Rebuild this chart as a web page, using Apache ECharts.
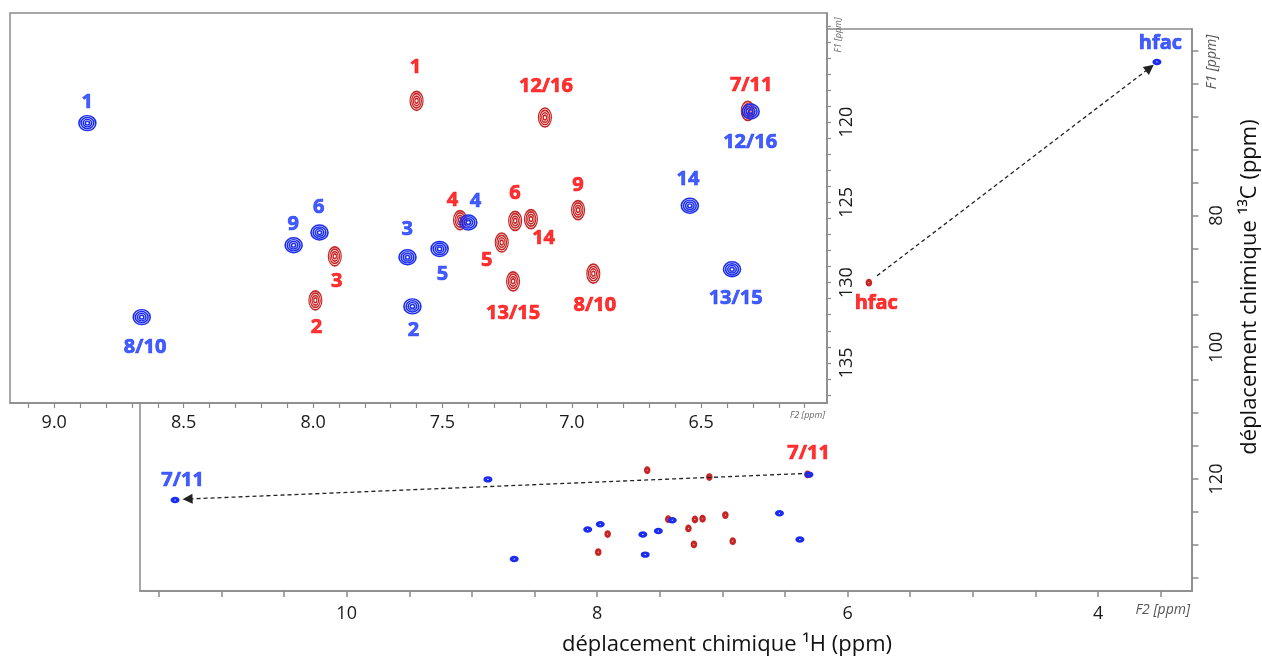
<!DOCTYPE html>
<html>
<head>
<meta charset="utf-8">
<script src="https://cdn.jsdelivr.net/npm/echarts@6/dist/echarts.min.js"></script>
<style>
html,body{margin:0;padding:0;background:#fff;}
#chart{width:1262px;height:661px;}
</style>
</head>
<body>
<div id="chart"></div>
<script>
// ---------- DATA (ppm) ----------
// complex (blue) peaks: 1H shift, 13C shift
const bluePeakNames = ['1','2','3','4','5','6','7/11','8/10','9','12/16','13/15','14','hfac'];
const blueH = [8.872, 7.616, 7.635, 7.400, 7.511, 7.975, 11.37, 8.662, 8.075, 6.309, 6.381, 6.544, 3.53];
const blueC = [120.06, 131.48, 128.42, 126.25, 127.90, 126.88, 123.2, 132.15, 127.67, 119.34, 129.17, 125.21, 56.7];
// free ligand (red) peaks
const redPeakNames = ['1','2','3','4','5','6','7/11','8/10','9','12/16','13/15','14','hfac'];
const redH = [7.600, 7.991, 7.916, 7.432, 7.271, 7.219, 6.320, 6.917, 6.976, 7.104, 7.227, 7.158, 5.83];
const redC = [118.67, 131.10, 128.36, 126.10, 127.50, 126.15, 119.30, 129.44, 125.48, 119.71, 129.92, 126.04, 90.2];

// annotation anchors (ppm) – zoomed panel
const blueTagText = ['1','2','3','4','5','6','8/10','9','12/16','13/15','14'];
const blueTagH = [8.873, 7.612, 7.636, 7.372, 7.500, 7.978, 8.649, 8.077, 6.311, 6.367, 6.551];
const blueTagC = [118.79, 132.98, 126.69, 124.96, 129.48, 125.31, 134.03, 126.36, 121.23, 131.00, 123.54];
const redTagText = ['1','2','3','4','5','6','7/11','8/10','9','12/16','13/15','14'];
const redTagH = [7.604, 7.987, 7.909, 7.461, 7.329, 7.220, 6.307, 6.911, 6.976, 7.100, 7.227, 7.109];
const redTagC = [116.60, 132.78, 129.92, 124.86, 128.61, 124.42, 117.73, 131.42, 123.92, 117.79, 131.94, 127.23];
// annotation anchors (ppm) – full spectrum
const blueMainTagText = ['7/11','hfac'];
const blueMainTagH = [11.31, 3.502];
const blueMainTagC = [120.15, 53.8];
const redMainTagText = ['7/11','hfac'];
const redMainTagH = [6.311, 5.771];
const redMainTagC = [116.1, 93.4];

// arrows (ppm, full spectrum)
const arrowStartH = [5.765, 6.364];
const arrowStartC = [89.16, 119.18];
const arrowEndH = [3.587, 11.27];
const arrowEndC = [57.6, 123.04];

// axes
const mainXRange = [3.25, 11.65];
const mainYRange = [51.7, 137];
const mainXLabels = [4, 6, 8, 10];
const mainXTicks = [3.5,4,4.5,5,5.5,6,6.5,7,7.5,8,8.5,9,9.5,10,10.5,11,11.5];
const mainYLabels = [80, 100, 120];
const mainYTicks = [55,60,65,70,75,80,85,90,95,100,105,110,115,120,125,130,135];
const zoomXRange = [6.014, 9.171];
const zoomYRange = [113.2, 137.5];
const zoomXLabels = [6.5, 7.0, 7.5, 8.0, 8.5, 9.0];
const zoomXTicks = [6.1,6.2,6.3,6.4,6.5,6.6,6.7,6.8,6.9,7.0,7.1,7.2,7.3,7.4,7.5,7.6,7.7,7.8,7.9,8.0,8.1,8.2,8.3,8.4,8.5,8.6,8.7,8.8,8.9,9.0,9.1];
const zoomYLabels = [120, 125, 130, 135];
const zoomYTicks = [114,115,116,117,118,119,120,121,122,123,124,125,126,127,128,129,130,131,132,133,134,135,136,137];

// ---------- BUILD ----------
const FONT = '"Open Sans", "Noto Sans", sans-serif';
const AXIS_GREY = '#8a8a8a';
const BLUE = '#1a2cf0';
const RED = '#c62525';
const BLUE_TXT = '#1434ff';
const RED_TXT = '#ff0000';

function ringPath(n) {
  let d = '';
  for (let k = 0; k < n; k++) {
    const r = 10 * (1 - k / n);
    d += `M${10 - r},10A${r},${r} 0 1 1 ${10 + r},10A${r},${r} 0 1 1 ${10 - r},10Z`;
  }
  return 'path://' + d;
}
const PEAK = ringPath(4);
const DOT2 = ringPath(2);

function pts(hs, cs, names) {
  return hs.map((h, i) => ({ value: [h, cs[i]], name: names ? names[i] : '' }));
}
function inRange(d, xr, yr) {
  return d.value[0] >= xr[0] && d.value[0] <= xr[1] && d.value[1] >= yr[0] && d.value[1] <= yr[1];
}

const blueAll = pts(blueH, blueC, bluePeakNames);
const redAll = pts(redH, redC, redPeakNames);
const blueZoom = blueAll.filter(d => inRange(d, zoomXRange, zoomYRange));
const redZoom = redAll.filter(d => inRange(d, zoomXRange, zoomYRange));

function peakSeries(data, xi, color, size, symbol, lw, z) {
  return {
    type: 'scatter', xAxisIndex: xi, yAxisIndex: xi, data: data,
    symbol: symbol, symbolSize: size, z: z, silent: true,
    itemStyle: { color: 'rgba(0,0,0,0)', borderColor: color, borderWidth: lw, opacity: 1 },
    emphasis: { disabled: true }, animation: false
  };
}
function tagSeries(data, xi, color, z) {
  return {
    type: 'scatter', xAxisIndex: xi, yAxisIndex: xi, data: data,
    symbol: 'circle', symbolSize: 1, z: z, silent: true,
    itemStyle: { color: 'rgba(0,0,0,0)' },
    label: { show: true, position: 'inside', formatter: '{b}', color: color,
      fontFamily: FONT, fontWeight: 'bold', fontSize: 20,
      textBorderColor: color, textBorderWidth: 0.7 },
    emphasis: { disabled: true }, animation: false
  };
}

const arrowData = arrowStartH.map((h, i) => ({
  coords: [[h, arrowStartC[i]], [arrowEndH[i], arrowEndC[i]]]
}));

const chart = echarts.init(document.getElementById('chart'), null, { renderer: 'canvas' });
chart.setOption({
  backgroundColor: '#ffffff',
  animation: false,
  grid: [
    { left: 140, top: 29, width: 1052, height: 562, show: true, backgroundColor: 'rgba(0,0,0,0)',
      borderColor: AXIS_GREY, borderWidth: 1.5, z: 0 },
    { left: 10, top: 13, width: 817, height: 390, show: true, backgroundColor: '#ffffff',
      borderColor: AXIS_GREY, borderWidth: 1.5, z: 5 }
  ],
  xAxis: [
    { gridIndex: 0, type: 'value', min: mainXRange[0], max: mainXRange[1], inverse: true, position: 'bottom',
      axisLine: { show: true, lineStyle: { color: AXIS_GREY, width: 1.5 } },
      axisTick: { show: true, customValues: mainXTicks, length: 6, lineStyle: { color: AXIS_GREY, width: 1.5 } },
      axisLabel: { customValues: mainXLabels, fontSize: 18, color: '#1a1a1a', fontFamily: FONT, margin: 14 },
      splitLine: { show: false }, z: 0 },
    { gridIndex: 1, type: 'value', min: zoomXRange[0], max: zoomXRange[1], inverse: true, position: 'bottom',
      axisLine: { show: true, lineStyle: { color: AXIS_GREY, width: 1.5 } },
      axisTick: { show: true, customValues: zoomXTicks, length: 5, lineStyle: { color: AXIS_GREY, width: 1.2 } },
      axisLabel: { customValues: zoomXLabels, fontSize: 18, color: '#1a1a1a', fontFamily: FONT, margin: 11,
        formatter: v => v.toFixed(1) },
      splitLine: { show: false }, z: 6 }
  ],
  yAxis: [
    { gridIndex: 0, type: 'value', min: mainYRange[0], max: mainYRange[1], inverse: true, position: 'right',
      axisLine: { show: true, lineStyle: { color: AXIS_GREY, width: 1.5 } },
      axisTick: { show: true, customValues: mainYTicks, length: 6.5, lineStyle: { color: AXIS_GREY, width: 1.5 } },
      axisLabel: { customValues: mainYLabels, rotate: 90, fontSize: 18, color: '#1a1a1a', fontFamily: FONT, margin: 16 },
      splitLine: { show: false }, z: 0 },
    { gridIndex: 1, type: 'value', min: zoomYRange[0], max: zoomYRange[1], inverse: true, position: 'right',
      axisLine: { show: true, lineStyle: { color: AXIS_GREY, width: 1.5 } },
      axisTick: { show: true, customValues: zoomYTicks, length: 4, lineStyle: { color: AXIS_GREY, width: 1.2 } },
      axisLabel: { customValues: zoomYLabels, rotate: 90, fontSize: 18, color: '#1a1a1a', fontFamily: FONT, margin: 11 },
      splitLine: { show: false }, z: 6 }
  ],
  series: [
    // full spectrum
    peakSeries(redAll, 0, RED, [5, 6], DOT2, 1.7, 2),
    peakSeries(blueAll, 0, BLUE, [7, 5], DOT2, 1.7, 2),
    { type: 'lines', coordinateSystem: 'cartesian2d', xAxisIndex: 0, yAxisIndex: 0, z: 3,
      data: arrowData, symbol: ['none', 'triangle'], symbolSize: 10, silent: true,
      lineStyle: { color: '#222', width: 1.3, type: [4, 3], opacity: 1 },
      itemStyle: { color: '#111' }, animation: false },
    tagSeries(pts(blueMainTagH, blueMainTagC, blueMainTagText), 0, BLUE_TXT, 3),
    tagSeries(pts(redMainTagH, redMainTagC, redMainTagText), 0, RED_TXT, 3),
    // zoomed aromatic region
    peakSeries(redZoom, 1, RED, [13, 19], PEAK, 1.4, 7),
    peakSeries(blueZoom, 1, BLUE, [17, 15], PEAK, 1.5, 8),
    tagSeries(pts(blueTagH, blueTagC, blueTagText), 1, BLUE_TXT, 9),
    tagSeries(pts(redTagH, redTagC, redTagText), 1, RED_TXT, 9)
  ],
  graphic: [
    { type: 'text', x: 727, y: 645, z: 10, silent: true,
      style: { text: 'déplacement chimique ¹H (ppm)', align: 'center', verticalAlign: 'middle',
        font: '22px ' + FONT, fill: '#111' } },
    { type: 'text', x: 1250, y: 287, rotation: Math.PI / 2, z: 10, silent: true,
      style: { text: 'déplacement chimique ¹³C (ppm)', align: 'center', verticalAlign: 'middle',
        font: '22px ' + FONT, fill: '#111' } },
    { type: 'text', x: 1190, y: 610, z: 10, silent: true,
      style: { text: 'F2 [ppm]', align: 'right', verticalAlign: 'middle',
        font: 'italic 14px ' + FONT, fill: '#555' } },
    { type: 'text', x: 1212, y: 62, rotation: Math.PI / 2, z: 10, silent: true,
      style: { text: 'F1 [ppm]', align: 'center', verticalAlign: 'middle',
        font: 'italic 14px ' + FONT, fill: '#555' } },
    { type: 'text', x: 825, y: 415, z: 10, silent: true,
      style: { text: 'F2 [ppm]', align: 'right', verticalAlign: 'middle',
        font: 'italic 9px ' + FONT, fill: '#666' } },
    { type: 'text', x: 838, y: 35, rotation: Math.PI / 2, z: 10, silent: true,
      style: { text: 'F1 [ppm]', align: 'center', verticalAlign: 'middle',
        font: 'italic 9px ' + FONT, fill: '#666' } }
  ]
});
</script>
</body>
</html>
